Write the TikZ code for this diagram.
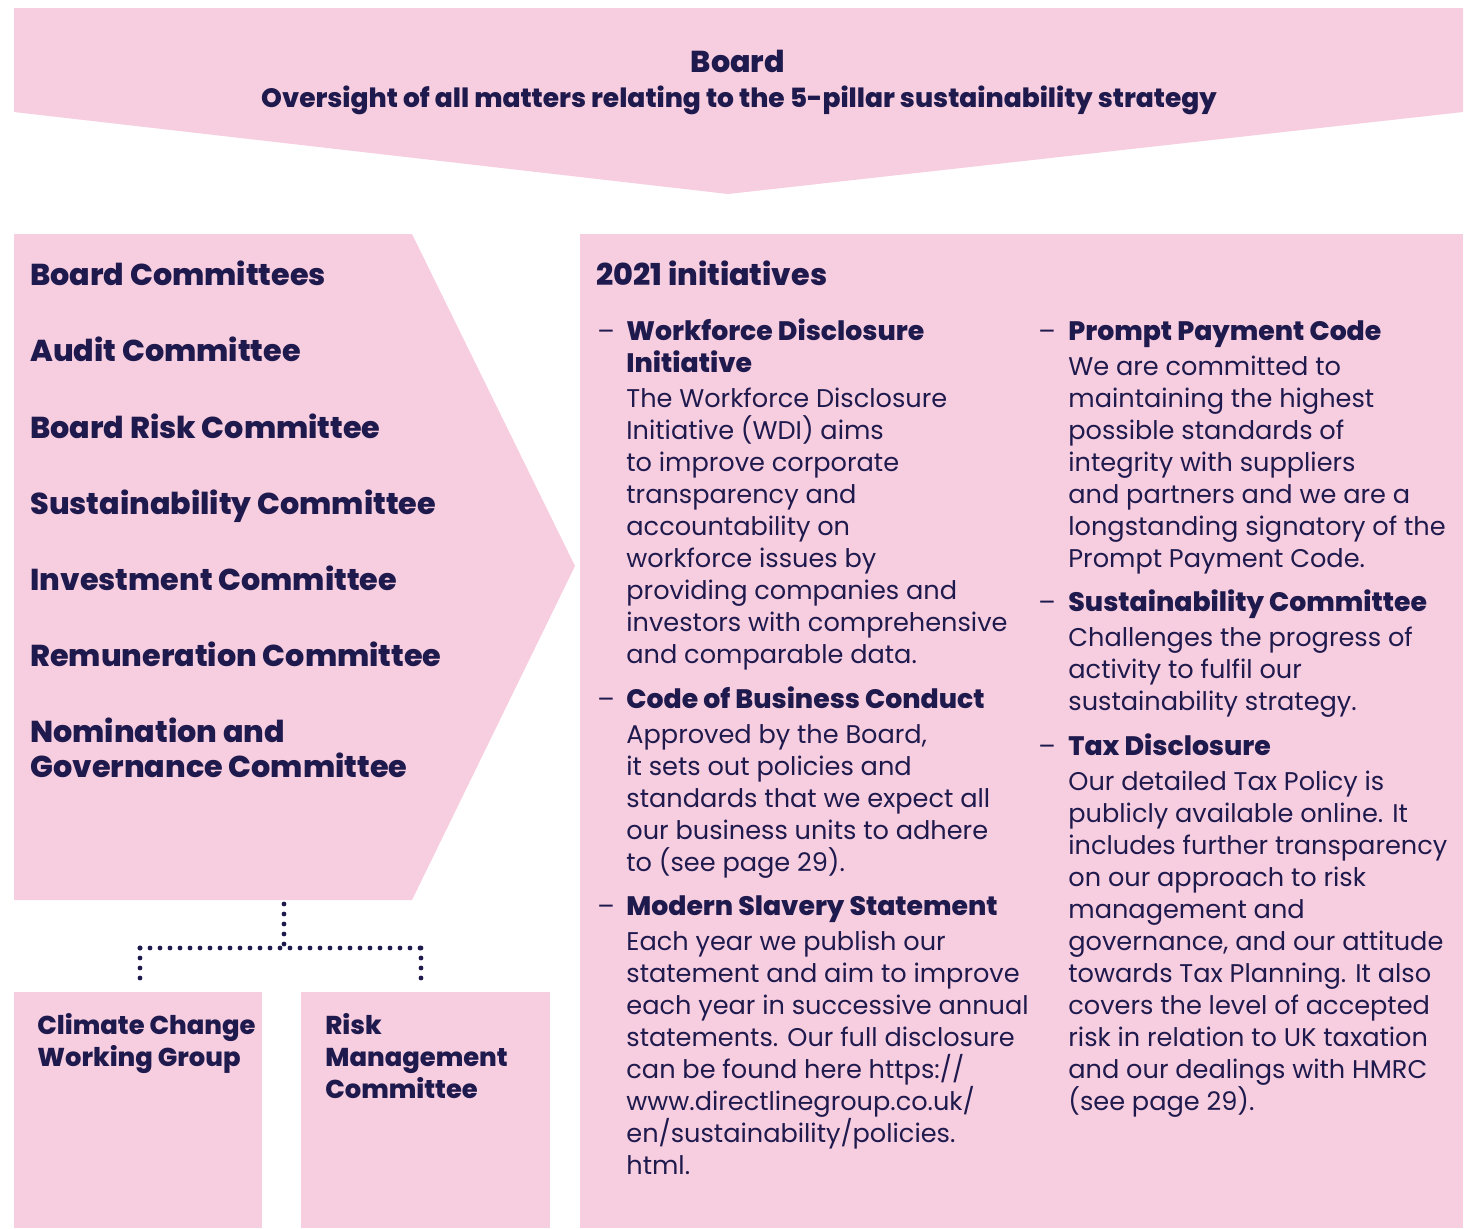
\documentclass[tikz,border=0pt]{standalone}
\usepackage{fontspec}
\IfFontExistsTF{Poppins ExtraBold}
  {\setmainfont{Poppins}[BoldFont={Poppins ExtraBold}]}
  {\setmainfont{Poppins}}
\usepackage{xcolor}
\usepackage{tikz}
\usetikzlibrary{positioning, arrows.meta}
\definecolor{gPink}{HTML}{F7CDE0}
\definecolor{gNavy}{HTML}{1F1A4D}
\tikzset{
  panel/.style={fill=gPink, draw=none, inner sep=0pt},
  cmtname/.style={font=\fontsize{15.1}{17.5}\selectfont\bfseries, text=gNavy, anchor=base west, inner sep=0pt},
  subname/.style={font=\fontsize{12.9}{16}\selectfont\bfseries, text=gNavy, anchor=base west, inner sep=0pt},
  initem/.style={font=\fontsize{12.8}{16}\selectfont, text=gNavy, anchor=base west, inner sep=0pt},
  dotline/.style={gNavy, line width=2.4pt, line cap=round, dash pattern=on 0pt off 5pt}
}
% lines stacked from the first baseline down, baselines kept evenly apart
\newcommand{\linestack}[1]{\vtop{\lineskiplimit=-\maxdimen\let\\\cr\halign{##\hfil\cr#1\crcr}}}
\newcommand{\ihead}[1]{{\fontsize{13.35}{16}\selectfont\bfseries #1}}
\newcommand{\headgap}{\noalign{\kern1.75pt}}

\begin{document}
\begin{tikzpicture}[x=0.5pt, y=-0.5pt]
  \useasboundingbox (0,0) rectangle (1471,1228);
  % board banner
  \fill[gPink] (14,8) -- (1463,8) -- (1463,112) -- (728,194) -- (14,112) -- cycle;
  \node[font=\fontsize{15.1}{18}\selectfont\bfseries, text=gNavy, anchor=base] (board) at (738,72) {Board};
  \node[font=\fontsize{13.25}{16}\selectfont\bfseries, text=gNavy, anchor=base] (oversight) at (739,107)
    {Oversight of all matters relating to the 5-pillar sustainability strategy};

  % committees chevron
  \fill[gPink] (14,234) -- (412,234) -- (575,566) -- (412,900) -- (14,900) -- cycle;
  \foreach \y/\t [count=\i] in {285/Board Committees, 361/Audit Committee, 438/Board Risk Committee,
      514/Sustainability Committee, 590/Investment Committee, 666/Remuneration Committee}
    \node[cmtname] (cmt\i) at (30,\y) {\t};
  \node[cmtname] (cmt7) at (30,742) {\linestack{Nomination and\\Governance Committee}};
  \coordinate (cmtfoot) at (284,904);

  % working groups
  \node[panel, minimum width=124pt, minimum height=118pt, anchor=north west] (ccwg) at (14,992) {};
  \node[panel, minimum width=124.5pt, minimum height=118pt, anchor=north west] (rmc) at (301,992) {};
  \node[subname] (ccwgname) at (37,1034) {\linestack{Climate Change\\Working Group}};
  \node[subname] (rmcname) at (325,1034) {\linestack{Risk\\Management\\Committee}};

  \coordinate (hub) at (284,948);
  \draw[dotline] (cmtfoot) -- (hub);
  \draw[dotline] (hub -| 140,0) -- (hub -| 421,0);
  \draw[dotline] (hub -| 140,0) -- (140,986);
  \draw[dotline] (hub -| 421,0) -- (421,986);

  % initiatives panel
  \node[panel, minimum width=441.5pt, minimum height=497pt, anchor=north west] (init) at (580,234) {};
  \node[cmtname] (inittitle) at (596,285) {2021 initiatives};
  \foreach \x/\y in {597/340, 597/708, 597/915, 1038/340, 1038/611, 1038/755}
    \node[initem] at (\x,\y) {--};
  \node[initem] (wdi) at (626,340) {\linestack{\ihead{Workforce Disclosure}\\\ihead{Initiative}\\\headgap
    The Workforce Disclosure\\Initiative (WDI) aims\\to improve corporate\\transparency and\\
    accountability on\\workforce issues by\\providing companies and\\investors with comprehensive\\
    and comparable data.}};
  \node[initem] (cobc) at (626,708) {\linestack{\ihead{Code of Business Conduct}\\\headgap
    Approved by the Board,\\it sets out policies and\\standards that we expect all\\
    our business units to adhere\\to (see page 29).}};
  \node[initem] (mss) at (626,915) {\linestack{\ihead{Modern Slavery Statement}\\\headgap
    Each year we publish our\\statement and aim to improve\\each year in successive annual\\
    statements. Our full disclosure\\can be found here https://\\www.directlinegroup.co.uk/\\
    en/sustainability/policies.\\html.}};
  \node[initem] (ppc) at (1068,340) {\linestack{\ihead{Prompt Payment Code}\\\headgap
    We are committed to\\maintaining the highest\\possible standards of\\integrity with suppliers\\
    and partners and we are a\\longstanding signatory of the\\Prompt Payment Code.}};
  \node[initem] (susc) at (1068,611) {\linestack{\ihead{Sustainability Committee}\\\headgap
    Challenges the progress of\\activity to fulfil our\\sustainability strategy.}};
  \node[initem] (taxd) at (1068,755) {\linestack{\ihead{Tax Disclosure}\\\headgap
    Our detailed Tax Policy is\\publicly available online. It\\includes further transparency\\
    on our approach to risk\\management and\\governance, and our attitude\\towards Tax Planning. It also\\
    covers the level of accepted\\risk in relation to UK taxation\\and our dealings with HMRC\\
    (see page 29).}};
\end{tikzpicture}
\end{document}
